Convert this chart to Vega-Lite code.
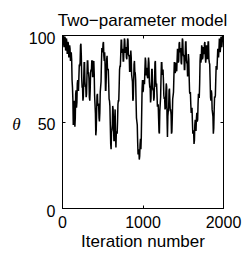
{
  "$schema": "https://vega.github.io/schema/vega-lite/v6.json",
  "width": 161,
  "height": 173,
  "autosize": "none",
  "padding": {"left": 62, "top": 35, "right": 26, "bottom": 46},
  "background": "white",
  "config": {
    "view": {"stroke": "black", "strokeWidth": 1},
    "font": "Liberation Sans",
    "axis": {"grid": false, "domainColor": "black", "tickColor": "black", "labelColor": "black", "titleColor": "black", "labelFont": "Liberation Sans", "titleFont": "Liberation Sans", "labelFontSize": 16, "titleFontSize": 17, "titleFontWeight": "normal", "tickSize": -3}
  },
  "title": {"text": "Two\u2212parameter model", "fontSize": 17, "fontWeight": "normal", "font": "Liberation Sans", "color": "black", "anchor": "middle", "baseline": "alphabetic", "offset": -13},
  "data": {"values": [
    {"i":0,"t":99},{"i":5,"t":94},{"i":10,"t":97},{"i":15,"t":99},{"i":20,"t":100},{"i":25,"t":93},{"i":30,"t":95},{"i":35,"t":99},{"i":40,"t":98},{"i":45,"t":91},
    {"i":50,"t":93},{"i":55,"t":98},{"i":60,"t":96},{"i":65,"t":89},{"i":70,"t":91},{"i":75,"t":96},{"i":80,"t":94},{"i":85,"t":87},{"i":90,"t":89},{"i":95,"t":94},
    {"i":100,"t":92},{"i":105,"t":85},{"i":110,"t":87},{"i":115,"t":90},{"i":120,"t":86},{"i":125,"t":74},{"i":130,"t":70},{"i":135,"t":63},{"i":140,"t":48},{"i":145,"t":51},
    {"i":150,"t":62},{"i":155,"t":58},{"i":160,"t":47},{"i":165,"t":52},{"i":170,"t":66},{"i":175,"t":68},{"i":180,"t":58},{"i":185,"t":61},{"i":190,"t":72},{"i":195,"t":74},
    {"i":200,"t":68},{"i":205,"t":68},{"i":210,"t":76},{"i":215,"t":83},{"i":220,"t":82},{"i":225,"t":84},{"i":230,"t":94},{"i":235,"t":95},{"i":240,"t":88},{"i":245,"t":75},
    {"i":250,"t":70},{"i":255,"t":70},{"i":260,"t":62},{"i":265,"t":64},{"i":270,"t":75},{"i":275,"t":84},{"i":280,"t":84},{"i":285,"t":73},{"i":290,"t":70},{"i":295,"t":71},
    {"i":300,"t":64},{"i":305,"t":66},{"i":310,"t":76},{"i":315,"t":85},{"i":320,"t":85},{"i":325,"t":78},{"i":330,"t":78},{"i":335,"t":75},{"i":340,"t":64},{"i":345,"t":62},
    {"i":350,"t":68},{"i":355,"t":78},{"i":360,"t":80},{"i":365,"t":79},{"i":370,"t":85},{"i":375,"t":85},{"i":380,"t":76},{"i":385,"t":76},{"i":390,"t":83},{"i":395,"t":85},
    {"i":400,"t":78},{"i":405,"t":65},{"i":410,"t":60},{"i":415,"t":55},{"i":420,"t":42},{"i":425,"t":45},{"i":430,"t":55},{"i":435,"t":65},{"i":440,"t":66},{"i":445,"t":59},
    {"i":450,"t":60},{"i":455,"t":60},{"i":460,"t":52},{"i":465,"t":50},{"i":470,"t":55},{"i":475,"t":67},{"i":480,"t":70},{"i":485,"t":73},{"i":490,"t":84},{"i":495,"t":92},
    {"i":500,"t":92},{"i":505,"t":90},{"i":510,"t":95},{"i":515,"t":96},{"i":520,"t":88},{"i":525,"t":85},{"i":530,"t":90},{"i":535,"t":83},{"i":540,"t":68},{"i":545,"t":68},
    {"i":550,"t":76},{"i":555,"t":86},{"i":560,"t":88},{"i":565,"t":80},{"i":570,"t":80},{"i":575,"t":80},{"i":580,"t":72},{"i":585,"t":63},{"i":590,"t":62},{"i":595,"t":59},
    {"i":600,"t":48},{"i":605,"t":37},{"i":610,"t":34},{"i":615,"t":44},{"i":620,"t":45},{"i":625,"t":48},{"i":630,"t":59},{"i":635,"t":57},{"i":640,"t":47},{"i":645,"t":39},
    {"i":650,"t":39},{"i":655,"t":52},{"i":660,"t":57},{"i":665,"t":42},{"i":670,"t":35},{"i":675,"t":44},{"i":680,"t":44},{"i":685,"t":43},{"i":690,"t":50},{"i":695,"t":60},
    {"i":700,"t":62},{"i":705,"t":62},{"i":710,"t":70},{"i":715,"t":80},{"i":720,"t":82},{"i":725,"t":82},{"i":730,"t":89},{"i":735,"t":97},{"i":740,"t":97},{"i":745,"t":90},
    {"i":750,"t":90},{"i":755,"t":92},{"i":760,"t":85},{"i":765,"t":85},{"i":770,"t":92},{"i":775,"t":98},{"i":780,"t":97},{"i":785,"t":90},{"i":790,"t":90},{"i":795,"t":93},
    {"i":800,"t":87},{"i":805,"t":86},{"i":810,"t":93},{"i":815,"t":98},{"i":820,"t":97},{"i":825,"t":89},{"i":830,"t":88},{"i":835,"t":88},{"i":840,"t":79},{"i":845,"t":79},
    {"i":850,"t":86},{"i":855,"t":91},{"i":860,"t":87},{"i":865,"t":77},{"i":870,"t":75},{"i":875,"t":73},{"i":880,"t":62},{"i":885,"t":63},{"i":890,"t":72},{"i":895,"t":83},
    {"i":900,"t":85},{"i":905,"t":78},{"i":910,"t":78},{"i":915,"t":74},{"i":920,"t":62},{"i":925,"t":52},{"i":930,"t":50},{"i":935,"t":48},{"i":940,"t":38},{"i":945,"t":31},
    {"i":950,"t":32},{"i":955,"t":34},{"i":960,"t":28},{"i":965,"t":30},{"i":970,"t":37},{"i":975,"t":40},{"i":980,"t":34},{"i":985,"t":41},{"i":990,"t":55},{"i":995,"t":69},
    {"i":1000,"t":74},{"i":1005,"t":67},{"i":1010,"t":68},{"i":1015,"t":74},{"i":1020,"t":72},{"i":1025,"t":72},{"i":1030,"t":80},{"i":1035,"t":87},{"i":1040,"t":85},{"i":1045,"t":77},
    {"i":1050,"t":77},{"i":1055,"t":81},{"i":1060,"t":76},{"i":1065,"t":75},{"i":1070,"t":82},{"i":1075,"t":87},{"i":1080,"t":84},{"i":1085,"t":73},{"i":1090,"t":70},{"i":1095,"t":70},
    {"i":1100,"t":61},{"i":1105,"t":63},{"i":1110,"t":72},{"i":1115,"t":80},{"i":1120,"t":80},{"i":1125,"t":70},{"i":1130,"t":68},{"i":1135,"t":69},{"i":1140,"t":62},{"i":1145,"t":64},
    {"i":1150,"t":74},{"i":1155,"t":84},{"i":1160,"t":85},{"i":1165,"t":74},{"i":1170,"t":70},{"i":1175,"t":72},{"i":1180,"t":66},{"i":1185,"t":59},{"i":1190,"t":59},{"i":1195,"t":60},
    {"i":1200,"t":52},{"i":1205,"t":44},{"i":1210,"t":43},{"i":1215,"t":56},{"i":1220,"t":60},{"i":1225,"t":64},{"i":1230,"t":75},{"i":1235,"t":84},{"i":1240,"t":84},{"i":1245,"t":77},
    {"i":1250,"t":78},{"i":1255,"t":80},{"i":1260,"t":74},{"i":1265,"t":65},{"i":1270,"t":63},{"i":1275,"t":64},{"i":1280,"t":57},{"i":1285,"t":58},{"i":1290,"t":66},{"i":1295,"t":72},
    {"i":1300,"t":70},{"i":1305,"t":52},{"i":1310,"t":41},{"i":1315,"t":53},{"i":1320,"t":56},{"i":1325,"t":58},{"i":1330,"t":68},{"i":1335,"t":69},{"i":1340,"t":62},{"i":1345,"t":56},
    {"i":1350,"t":57},{"i":1355,"t":54},{"i":1360,"t":43},{"i":1365,"t":44},{"i":1370,"t":52},{"i":1375,"t":63},{"i":1380,"t":65},{"i":1385,"t":67},{"i":1390,"t":76},{"i":1395,"t":84},
    {"i":1400,"t":84},{"i":1405,"t":78},{"i":1410,"t":79},{"i":1415,"t":84},{"i":1420,"t":80},{"i":1425,"t":79},{"i":1430,"t":86},{"i":1435,"t":92},{"i":1440,"t":90},{"i":1445,"t":84},
    {"i":1450,"t":85},{"i":1455,"t":95},{"i":1460,"t":96},{"i":1465,"t":90},{"i":1470,"t":92},{"i":1475,"t":92},{"i":1480,"t":84},{"i":1485,"t":83},{"i":1490,"t":90},{"i":1495,"t":98},
    {"i":1500,"t":97},{"i":1505,"t":89},{"i":1510,"t":88},{"i":1515,"t":88},{"i":1520,"t":80},{"i":1525,"t":80},{"i":1530,"t":88},{"i":1535,"t":96},{"i":1540,"t":96},{"i":1545,"t":86},
    {"i":1550,"t":84},{"i":1555,"t":84},{"i":1560,"t":76},{"i":1565,"t":79},{"i":1570,"t":89},{"i":1575,"t":86},{"i":1580,"t":75},{"i":1585,"t":67},{"i":1590,"t":66},{"i":1595,"t":67},
    {"i":1600,"t":60},{"i":1605,"t":55},{"i":1610,"t":57},{"i":1615,"t":58},{"i":1620,"t":50},{"i":1625,"t":43},{"i":1630,"t":44},{"i":1635,"t":45},{"i":1640,"t":37},{"i":1645,"t":39},
    {"i":1650,"t":48},{"i":1655,"t":51},{"i":1660,"t":45},{"i":1665,"t":45},{"i":1670,"t":52},{"i":1675,"t":55},{"i":1680,"t":50},{"i":1685,"t":51},{"i":1690,"t":60},{"i":1695,"t":66},
    {"i":1700,"t":64},{"i":1705,"t":64},{"i":1710,"t":72},{"i":1715,"t":85},{"i":1720,"t":89},{"i":1725,"t":84},{"i":1730,"t":86},{"i":1735,"t":94},{"i":1740,"t":93},{"i":1745,"t":86},
    {"i":1750,"t":87},{"i":1755,"t":93},{"i":1760,"t":90},{"i":1765,"t":89},{"i":1770,"t":95},{"i":1775,"t":96},{"i":1780,"t":88},{"i":1785,"t":84},{"i":1790,"t":87},{"i":1795,"t":94},
    {"i":1800,"t":92},{"i":1805,"t":86},{"i":1810,"t":88},{"i":1815,"t":96},{"i":1820,"t":96},{"i":1825,"t":86},{"i":1830,"t":84},{"i":1835,"t":83},{"i":1840,"t":74},{"i":1845,"t":64},
    {"i":1850,"t":62},{"i":1855,"t":68},{"i":1860,"t":66},{"i":1865,"t":57},{"i":1870,"t":55},{"i":1875,"t":53},{"i":1880,"t":43},{"i":1885,"t":46},{"i":1890,"t":56},{"i":1895,"t":64},
    {"i":1900,"t":64},{"i":1905,"t":65},{"i":1910,"t":74},{"i":1915,"t":82},{"i":1920,"t":81},{"i":1925,"t":80},{"i":1930,"t":86},{"i":1935,"t":92},{"i":1940,"t":89},{"i":1945,"t":87},
    {"i":1950,"t":92},{"i":1955,"t":98},{"i":1960,"t":95},{"i":1965,"t":90},{"i":1970,"t":93},{"i":1975,"t":99},{"i":1980,"t":98},{"i":1985,"t":93},{"i":1990,"t":96},{"i":1995,"t":99},
    {"i":2000,"t":99}
  ]},
  "layer": [
    {
      "mark": {"type": "line", "color": "black", "strokeWidth": 1.5, "clip": true},
      "encoding": {
        "x": {"field": "i", "type": "quantitative", "scale": {"domain": [0, 2000], "nice": false},
          "axis": {"orient": "bottom", "values": [0, 1000, 2000], "format": "d", "title": "Iteration number", "labelPadding": 9, "titleY": 38, "titleBaseline": "alphabetic", "labelFlush": false}},
        "y": {"field": "t", "type": "quantitative", "scale": {"domain": [0, 100], "nice": false},
          "axis": {"orient": "left", "values": [0, 50, 100], "format": "d", "title": "θ", "titleAngle": 0, "titleX": -46, "titleY": 89, "titleAlign": "center", "titleBaseline": "middle", "titleFont": "Liberation Serif", "titleFontStyle": "italic", "titleFontSize": 17, "labelPadding": 10, "labelOffset": 3, "labelFlush": false}}
      }
    },
    {
      "mark": {"type": "line", "opacity": 0},
      "encoding": {
        "x": {"field": "i", "type": "quantitative", "scale": {"domain": [0, 2000], "nice": false},
          "axis": {"orient": "top", "values": [0, 1000, 2000], "labels": false, "title": null}},
        "y": {"field": "t", "type": "quantitative", "scale": {"domain": [0, 100], "nice": false},
          "axis": {"orient": "right", "values": [0, 50, 100], "labels": false, "title": null}}
      }
    }
  ],
  "resolve": {"axis": {"x": "independent", "y": "independent"}}
}
